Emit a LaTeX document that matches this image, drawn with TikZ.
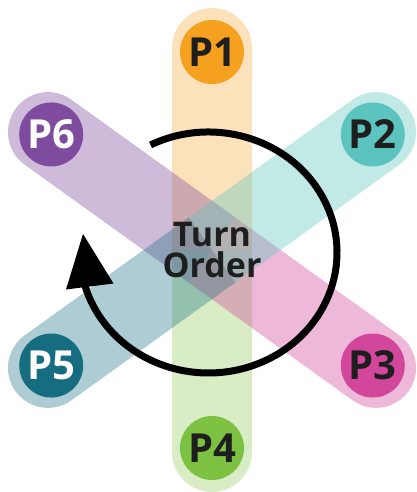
\documentclass[tikz,border=0pt]{standalone}
\usepackage{fontspec}
\usetikzlibrary{calc}
\setmainfont{Open Sans}
\definecolor{cP1}{HTML}{F5A01F}
\definecolor{cP2}{HTML}{5CC4BE}
\definecolor{cP3}{HTML}{D2479B}
\definecolor{cP4}{HTML}{7DC143}
\definecolor{cP5}{HTML}{166D80}
\definecolor{cP6}{HTML}{7E4B9E}
\definecolor{ink}{HTML}{1E1E1E}
\tikzset{
  pcircle/.style={circle, fill=#1, minimum size=64pt, inner sep=0pt,
    font=\bfseries\fontsize{40}{40}\selectfont, text=ink},
  arrowline/.style={line width=7pt, draw=black},
  centretext/.style={font=\bfseries\fontsize{34}{34}\selectfont, text=ink, inner sep=0pt},
}
\newcommand{\arm}[3]{%
  \fill[#2, fill opacity=#3, shift={(212pt,-250pt)}, rotate=#1]
    (0,-40) -- (202,-40) arc[start angle=-90, end angle=90, radius=40] -- (0,40) -- cycle;}
\begin{document}
\begin{tikzpicture}[x=1pt, y=-1pt]
\useasboundingbox (0,0) rectangle (416,492);
\coordinate (c) at (212,250);
% bands
\arm{90}{cP1}{0.3}
\arm{-90}{cP4}{0.3}
\arm{144.3}{cP6}{0.38}
\arm{-35.7}{cP3}{0.38}
\arm{35.7}{cP2}{0.38}
\arm{215.7}{cP5}{0.35}
% circles
\node[pcircle=cP1] (p1) at ($(c)+(90:198pt)$) {P1};
\node[pcircle=cP2] (p2) at ($(c)+(35.7:198pt)$) {P2};
\node[pcircle=cP3] (p3) at ($(c)+(-35.7:198pt)$) {P3};
\node[pcircle=cP4] (p4) at ($(c)+(-90:198pt)$) {P4};
\node[pcircle=cP5, text=white] (p5) at ($(c)+(215.7:198pt)$) {P5};
\node[pcircle=cP6, text=white] (p6) at ($(c)+(144.3:198pt)$) {P6};
% centre text
\node[centretext, anchor=base] (turn) at (212,246) {Turn};
\node[centretext, anchor=base] (order) at (212,277) {Order};
% arrow
\coordinate (ac) at (208.5,252.5);
\draw[arrowline] (ac) ++(-116.8:128.5 and 120.5) arc[start angle=-116.8, end angle=164, x radius=128.5, y radius=120.5];
\fill[black] (83,234) -- (66,289.5) -- (113.5,283.5) -- cycle;
\end{tikzpicture}
\end{document}
